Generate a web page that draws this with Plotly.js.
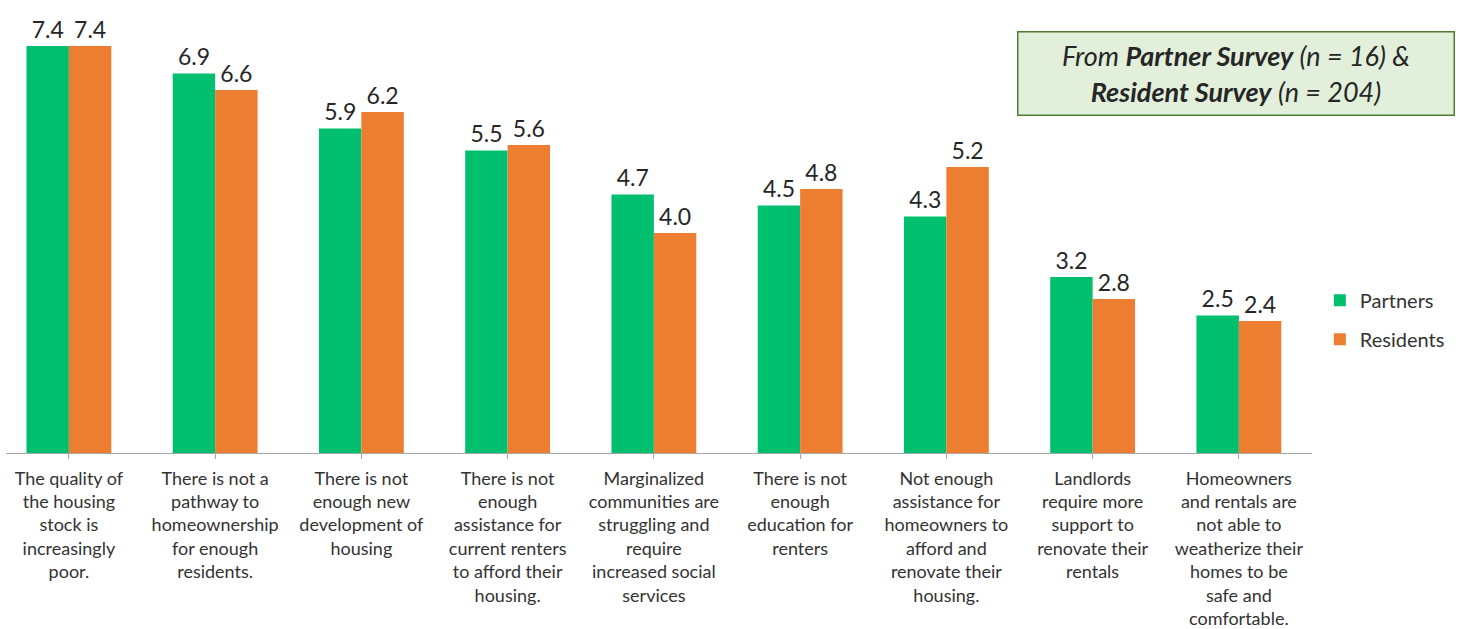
<!DOCTYPE html>
<html>
<head>
<meta charset="utf-8">
<script src="https://cdn.plot.ly/plotly-3.0.1.min.js"></script>
<style>html,body{margin:0;padding:0;background:#fff;}#chart{width:1470px;height:629px;}</style>
</head>
<body>
<div id="chart"></div>
<script>
const categories = [
  "The quality of<br>the housing<br>stock is<br>increasingly<br>poor.",
  "There is not a<br>pathway to<br>homeownership<br>for enough<br>residents.",
  "There is not<br>enough new<br>development of<br>housing",
  "There is not<br>enough<br>assistance for<br>current renters<br>to afford their<br>housing.",
  "Marginalized<br>communities are<br>struggling and<br>require<br>increased social<br>services",
  "There is not<br>enough<br>education for<br>renters",
  "Not enough<br>assistance for<br>homeowners to<br>afford and<br>renovate their<br>housing.",
  "Landlords<br>require more<br>support to<br>renovate their<br>rentals",
  "Homeowners<br>and rentals are<br>not able to<br>weatherize their<br>homes to be<br>safe and<br>comfortable."
];
const partners = [7.4, 6.9, 5.9, 5.5, 4.7, 4.5, 4.3, 3.2, 2.5];
const residents = [7.4, 6.6, 6.2, 5.6, 4.0, 4.8, 5.2, 2.8, 2.4];
const seriesNames = ["Partners", "Residents"];
const idx = categories.map((c, i) => i);

const traces = [
  {type: 'bar', name: seriesNames[0], x: idx, y: partners, marker: {color: '#00BF6F'},
   text: partners.map(v => v.toFixed(1)), textposition: 'outside', cliponaxis: false,
   textfont: {family: 'Lato', size: 23, color: '#262626'}, legendgroup: 'a', hoverinfo: 'none'},
  {type: 'bar', name: seriesNames[1], x: idx, y: residents, marker: {color: '#ED7D31'},
   text: residents.map(v => v.toFixed(1)), textposition: 'outside', cliponaxis: false,
   textfont: {family: 'Lato', size: 23, color: '#262626'}, legendgroup: 'b', hoverinfo: 'none'}
];

const layout = {
  width: 1470, height: 629,
  margin: {l: 6, r: 158, t: 0, b: 176},
  paper_bgcolor: '#ffffff', plot_bgcolor: '#ffffff',
  barmode: 'group', bargap: 0.42, bargroupgap: 0,
  font: {family: 'Lato', color: '#404040'},
  xaxis: {
    range: [-0.43, 8.5], tickmode: 'array', tickvals: idx, ticktext: categories,
    tickangle: 0, showgrid: false, zeroline: false,
    showline: true, linecolor: '#A6A6A6', linewidth: 1,
    ticks: 'outside', tickson: 'boundaries', ticklen: 5, tickcolor: '#A6A6A6',
    ticklabelstandoff: 4,
    tickfont: {family: 'Lato', size: 18, color: '#333333'}
  },
  yaxis: {range: [0, 8.236], visible: false, showgrid: false, zeroline: false},
  showlegend: true,
  legend: {x: 1.006, y: 0.38, xanchor: 'left', yanchor: 'top', traceorder: 'grouped',
    tracegroupgap: 10, itemwidth: 30,
    font: {family: 'Lato', size: 20, color: '#333333'}, bgcolor: 'rgba(0,0,0,0)'},
  annotations: [{
    xref: 'paper', yref: 'paper', x: 0.942, y: 0.837, xanchor: 'center', yanchor: 'middle',
    text: "<i>From <b>Partner Survey</b> (n = 16) &amp;<br><b>Resident Survey</b> (n = 204)</i>",
    showarrow: false, align: 'center',
    font: {family: 'Lato', size: 27, color: '#262626'},
    bgcolor: '#E2EFDA', bordercolor: '#507E32', borderwidth: 1.5,
    width: 433, height: 80
  }]
};

Plotly.newPlot('chart', traces, layout, {staticPlot: true});
</script>
</body>
</html>
